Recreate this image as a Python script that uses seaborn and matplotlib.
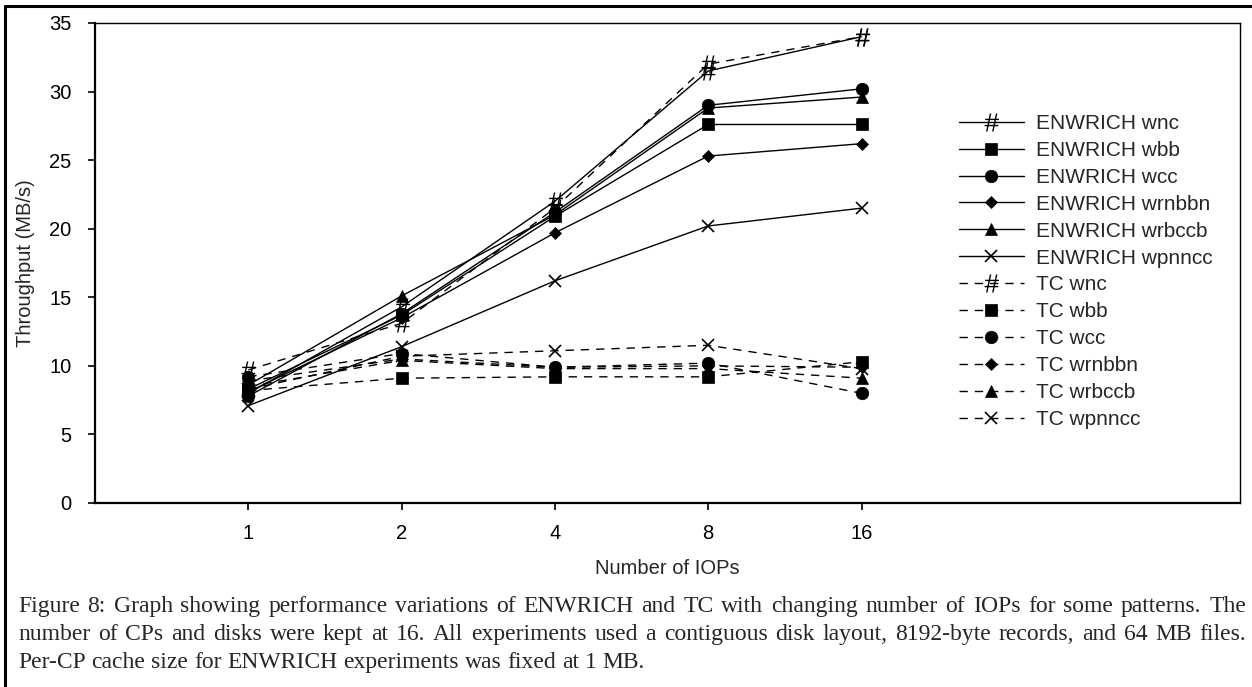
import matplotlib
matplotlib.use("Agg")
import matplotlib.pyplot as plt
from matplotlib.lines import Line2D
from matplotlib.path import Path
from matplotlib.textpath import TextPath
from matplotlib.font_manager import FontProperties
import seaborn as sns

# ── data ──
iops = ["1", "2", "4", "8", "16"]
positions = [1, 2, 3, 4, 5]

enw_wnc    = [8.0, 14.3, 22.0, 31.5, 34.0]
enw_wbb    = [8.3, 13.7, 20.9, 27.6, 27.6]
enw_wcc    = [7.8, 13.8, 21.2, 29.0, 30.2]
enw_wrnbbn = [8.1, 13.5, 19.7, 25.3, 26.2]
enw_wrbccb = [8.6, 15.1, 21.0, 28.8, 29.6]
enw_wpnncc = [7.1, 11.4, 16.2, 20.2, 21.5]

tc_wnc    = [9.7, 13.1, 21.5, 32.0, 34.0]
tc_wbb    = [8.2, 9.1, 9.2, 9.2, 10.3]
tc_wcc    = [9.2, 10.9, 9.9, 10.2, 8.0]
tc_wrnbbn = [8.9, 10.5, 9.9, 10.0, 9.9]
tc_wrbccb = [8.5, 10.4, 9.8, 9.8, 9.1]
tc_wpnncc = [8.3, 10.7, 11.1, 11.5, 9.8]

patterns = ["wnc", "wbb", "wcc", "wrnbbn", "wrbccb", "wpnncc"]
enwrich = [enw_wnc, enw_wbb, enw_wcc, enw_wrnbbn, enw_wrbccb, enw_wpnncc]
tc = [tc_wnc, tc_wbb, tc_wcc, tc_wrnbbn, tc_wrbccb, tc_wpnncc]

caption = [
    "Figure 8: Graph showing performance variations of ENWRICH and TC with changing number of IOPs for some patterns.  The",
    "number of CPs and disks were kept at 16.  All experiments used a contiguous disk layout, 8192-byte records, and 64 MB files.",
    "Per-CP cache size for ENWRICH experiments was fixed at 1 MB.",
]

sns.set_style("white")
plt.rcParams["font.family"] = ["Liberation Sans", "DejaVu Sans"]

# slanted thin hash marker, centred on the data point
tp = TextPath((0, 0), "#", size=10, prop=FontProperties(family="Liberation Sans", style="italic"))
verts = tp.vertices.copy()
verts -= (verts.min(axis=0) + verts.max(axis=0)) / 2
hash_marker = Path(verts, tp.codes)

markers = [hash_marker, "s", "o", "D", "^", "x"]
msizes = [13, 8.5, 9, 6.5, 8.5, 8.5]
mews = [0.0, 0.5, 0.5, 0.5, 0.5, 1.2]

W, H = 1252, 687
fig = plt.figure(figsize=(W / 100, H / 100), dpi=100)
ax = fig.add_axes([95 / W, 1 - 503 / H, (1240 - 95) / W, (503 - 23) / H])

for name, vals, m, ms, ew in zip(patterns, enwrich, markers, msizes, mews):
    sns.lineplot(x=positions, y=vals, ax=ax, color="black", marker=m, markersize=ms,
                 markeredgecolor="black", markeredgewidth=ew,
                 linewidth=1.0, linestyle="-", label=f"ENWRICH {name}", errorbar=None)
for name, vals, m, ms, ew in zip(patterns, tc, markers, msizes, mews):
    sns.lineplot(x=positions, y=vals, ax=ax, color="black", marker=m, markersize=ms,
                 markeredgecolor="black", markeredgewidth=ew,
                 linewidth=1.0, linestyle=(0, (6, 5)), label=f"TC {name}", errorbar=None)

ax.set_xlim(0, (1240 - 95) / 153.3)
ax.set_ylim(0, 35)
ax.set_xticks(positions)
ax.set_xticklabels(iops)
ax.set_yticks(range(0, 36, 5))
ax.tick_params(axis="both", labelsize=14.5, direction="out", length=5, width=1.2,
               color="black", labelcolor="black", bottom=True, left=True)
ax.tick_params(axis="x", pad=10)
ax.tick_params(axis="y", pad=12)
for side in ["left", "bottom"]:
    ax.spines[side].set_linewidth(1.6)
    ax.spines[side].set_color("black")
for side in ["top", "right"]:
    ax.spines[side].set_linewidth(1.0)
    ax.spines[side].set_color("black")
ax.set_xlabel("Number of IOPs", fontsize=14.5, labelpad=12)
ax.set_ylabel("Throughput (MB/s)", fontsize=14.5, labelpad=10)

ax.legend(loc="upper left", bbox_to_anchor=(959 / W, 1 - 114 / H),
          bbox_transform=fig.transFigure, frameon=False, fontsize=15,
          handlelength=3.1, handletextpad=0.58, labelspacing=0.38,
          borderpad=0, borderaxespad=0)

# outer frame (top and left edges visible)
fig.add_artist(Line2D([5 / W, 1], [1 - 6 / H, 1 - 6 / H], color="black", lw=2.2,
                      transform=fig.transFigure))
fig.add_artist(Line2D([5 / W, 5 / W], [0, 1 - 6 / H], color="black", lw=2.2,
                      transform=fig.transFigure))

# justified caption
cap_kw = dict(fontsize=17, family="Liberation Serif", va="baseline", ha="left")
renderer = fig.canvas.get_renderer()
x0, x1 = 18, 1246
for i, line in enumerate(caption):
    y = 1 - (612 + i * 28) / H
    words = [w for w in line.split(" ") if w]
    texts = [fig.text(0, y, w, **cap_kw) for w in words]
    widths = [t.get_window_extent(renderer).width for t in texts]
    if i < len(caption) - 1:
        gap = (x1 - x0 - sum(widths)) / (len(words) - 1)
    else:
        sp = fig.text(0, y, "a a", **cap_kw)
        sa = fig.text(0, y, "aa", **cap_kw)
        gap = sp.get_window_extent(renderer).width - sa.get_window_extent(renderer).width
        sp.remove(); sa.remove()
    x = x0
    for t, w in zip(texts, widths):
        t.set_x(x / W)
        x += w + gap

fig.savefig("out.png", dpi=100)
plt.close()
